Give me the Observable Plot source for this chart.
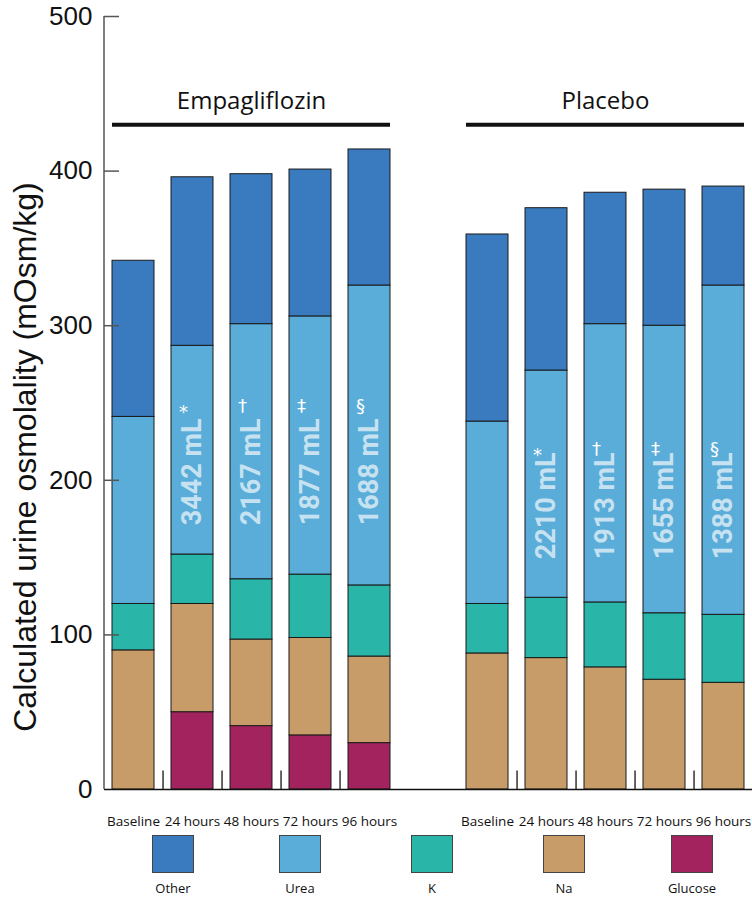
<!DOCTYPE html>
<html>
<head>
<meta charset="utf-8">
<script src="https://cdn.jsdelivr.net/npm/d3@7"></script>
<script src="https://cdn.jsdelivr.net/npm/@observablehq/plot@0.6"></script>
<style>
  body { margin: 0; background: #fff; }
  #chart { width: 752px; }
  .legend { position: relative; width: 752px; height: 69px; font-family: "Open Sans", sans-serif; color: #111; }
  .legend .sw { position: absolute; top: 5px; width: 42px; height: 38px; box-sizing: border-box; border: 1px solid #444; }
  .legend .lab { position: absolute; top: 49px; width: 100px; text-align: center; font-size: 13px; }
</style>
</head>
<body>
<div id="chart"></div>
<div class="legend" id="legend"></div>
<script>
// Time points and osmole components
const timepoints = ["Baseline", "24 hours", "48 hours", "72 hours", "96 hours"];
const components = ["Other", "Urea", "K", "Na", "Glucose"];
const componentColors = ["#3a7bbf", "#5badd9", "#29b5a8", "#c79c68", "#a3235f"];
const stackOrder = ["Glucose", "Na", "K", "Urea", "Other"];

// Empagliflozin: contribution of each component (mOsm/kg)
const empaGlucose = [0, 50, 41, 35, 30];
const empaNa = [90, 70, 56, 63, 56];
const empaK = [30, 32, 39, 41, 46];
const empaUrea = [121, 135, 165, 167, 194];
const empaOther = [101, 109, 97, 95, 88];

// Placebo: contribution of each component (mOsm/kg)
const placeboGlucose = [0, 0, 0, 0, 0];
const placeboNa = [88, 85, 79, 71, 69];
const placeboK = [32, 39, 42, 43, 44];
const placeboUrea = [118, 147, 180, 186, 213];
const placeboOther = [121, 105, 85, 88, 64];

// Urine volume per interval (mL) and significance markers
const empaVolume = [null, 3442, 2167, 1877, 1688];
const placeboVolume = [null, 2210, 1913, 1655, 1388];
const volumeMarkers = [null, "*", "\u2020", "\u2021", "\u00a7"];

const yTicks = [0, 100, 200, 300, 400, 500];
const yTitle = "Calculated urine osmolality (mOsm/kg)";

const groups = [
  {name: "Empagliflozin", prefix: "E",
   series: {Glucose: empaGlucose, Na: empaNa, K: empaK, Urea: empaUrea, Other: empaOther},
   volume: empaVolume, labelY: 171, markerY: 248},
  {name: "Placebo", prefix: "P",
   series: {Glucose: placeboGlucose, Na: placeboNa, K: placeboK, Urea: placeboUrea, Other: placeboOther},
   volume: placeboVolume, labelY: 149, markerY: 220}
];

const keyOf = (g, i) => `${g.prefix}|${timepoints[i]}`;
const xDomain = [
  ...timepoints.map((_, i) => keyOf(groups[0], i)),
  "gap",
  ...timepoints.map((_, i) => keyOf(groups[1], i))
];

// Stacked rows, bottom to top
const rows = [];
for (const g of groups) {
  timepoints.forEach((t, i) => {
    for (const c of stackOrder) {
      const v = g.series[c][i];
      if (v > 0) rows.push({key: keyOf(g, i), component: c, value: v});
    }
  });
}

// Volume labels inside the urea segment
const volumeRows = [];
for (const g of groups) {
  g.volume.forEach((v, i) => {
    if (v != null) volumeRows.push({
      key: keyOf(g, i), text: `${v} mL`, marker: volumeMarkers[i],
      y: g.labelY, my: volumeMarkers[i] === "*" ? g.markerY - 4 : g.markerY
    });
  });
}

// Separator ticks between adjacent bars of a group
const separatorKeys = groups.flatMap(g => timepoints.slice(0, -1).map((_, i) => keyOf(g, i)));

const headers = groups.map(g => ({name: g.name, from: keyOf(g, 0), to: keyOf(g, 4), mid: keyOf(g, 2)}));

const W = 752, H = 830, ML = 104, MR = 0, MT = 16, MB = 41;
const padIn = 0.29, padOut = 0.127;
const step = (W - ML - MR) / (xDomain.length - padIn + 2 * padOut);

function yAxisLine(index, scales, values, dimensions) {
  const line = document.createElementNS("http://www.w3.org/2000/svg", "line");
  const x = dimensions.marginLeft;
  line.setAttribute("x1", x);
  line.setAttribute("x2", x);
  line.setAttribute("y1", scales.y(0));
  line.setAttribute("y2", scales.y(500));
  line.setAttribute("stroke", "#555");
  line.setAttribute("stroke-width", 1.5);
  return line;
}

const chart = Plot.plot({
  width: W, height: H,
  marginLeft: ML, marginRight: MR, marginTop: MT, marginBottom: MB,
  style: {fontFamily: "'Open Sans', sans-serif", background: "white", color: "#111", overflow: "visible"},
  x: {type: "band", domain: xDomain, paddingInner: padIn, paddingOuter: padOut},
  y: {domain: [0, 500]},
  color: {domain: components, range: componentColors},
  marks: [
    Plot.barY(rows, {x: "key", y: "value", fill: "component", order: stackOrder, stroke: "#1a1a1a", strokeWidth: 1}),
    Plot.ruleY([0], {stroke: "#111", strokeWidth: 1.5}),
    Plot.ruleX(separatorKeys, {x: d => d, y1: 0, y2: 12, dx: step / 2, stroke: "#333", strokeWidth: 1.5}),
    yAxisLine,
    Plot.ruleY(yTicks.filter(v => v > 0), {y: d => d, insetRight: W - ML - MR - 15, stroke: "#555", strokeWidth: 1.5}),
    Plot.axisY({ticks: yTicks, tickSize: 0, tickPadding: 12, fontSize: 26, label: null,
      fontFamily: "'Liberation Sans', sans-serif"}),
    Plot.axisX({tickSize: 0, tickPadding: 27, fontSize: 13.5, label: null,
      tickFormat: k => k === "gap" ? "" : k.split("|")[1]}),
    Plot.text([yTitle], {text: d => d, frameAnchor: "left", textAnchor: "middle", dx: -79, dy: 54, rotate: -90,
      fontSize: 32, fontFamily: "'Liberation Sans', sans-serif", fill: "#111"}),
    Plot.ruleY(headers, {x1: "from", x2: "to", y: 430, stroke: "#111", strokeWidth: 4}),
    Plot.text(headers, {x: "mid", y: 440, text: "name", lineAnchor: "bottom", fontSize: 24, fill: "#111"}),
    Plot.text(volumeRows, {x: "key", y: "y", text: "text", rotate: -90, textAnchor: "start",
      fontSize: 27, fontWeight: "bold", fontFamily: "Roboto, sans-serif", fill: "white", fillOpacity: 0.68}),
    Plot.text(volumeRows, {x: "key", y: "my", text: "marker", dx: -9, fontSize: 18, fill: "white",
      fontFamily: "'DejaVu Sans', sans-serif"})
  ]
});
document.getElementById("chart").appendChild(chart);

// Legend below the chart
const legendPos = [152, 279, 411, 543, 671];
const legend = document.getElementById("legend");
components.forEach((c, i) => {
  const sw = document.createElement("div");
  sw.className = "sw";
  sw.style.left = legendPos[i] + "px";
  sw.style.background = componentColors[i];
  legend.appendChild(sw);
  const lab = document.createElement("div");
  lab.className = "lab";
  lab.style.left = (legendPos[i] + 21 - 50) + "px";
  lab.textContent = c;
  legend.appendChild(lab);
});
</script>
</body>
</html>
